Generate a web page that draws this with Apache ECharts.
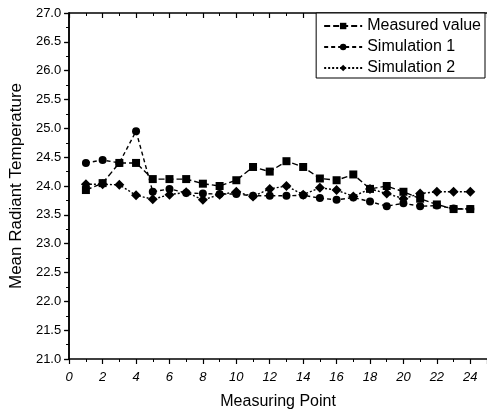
<!DOCTYPE html>
<html>
<head>
<meta charset="utf-8">
<script src="https://cdn.jsdelivr.net/npm/echarts@6/dist/echarts.min.js"></script>
<style>html,body{margin:0;padding:0;background:#fff}#c{width:487px;height:415px}</style>
</head>
<body>
<div id="c"></div>
<script>
const points = [1,2,3,4,5,6,7,8,9,10,11,12,13,14,15,16,17,18,19,20,21,22,23,24];
const measured = [23.93,24.05,24.40,24.40,24.12,24.12,24.12,24.04,24.00,24.10,24.33,24.25,24.43,24.33,24.13,24.10,24.20,23.95,24.00,23.90,23.78,23.68,23.60,23.60];
const simulation1 = [24.40,24.45,24.40,24.95,23.90,23.95,23.88,23.87,23.86,23.86,23.83,23.83,23.83,23.84,23.79,23.76,23.80,23.73,23.65,23.70,23.65,23.66,23.61,23.60];
const simulation2 = [24.03,24.03,24.02,23.84,23.77,23.85,23.89,23.76,23.85,23.90,23.82,23.95,24.00,23.85,23.97,23.93,23.82,23.95,23.87,23.78,23.87,23.90,23.90,23.90];
const seriesNames = ['Measured value','Simulation 1','Simulation 2'];
const xTitle = 'Measuring Point';
const yTitle = 'Mean Radiant Temperature';

const pair = arr => points.map((p,i)=>[p,arr[i]]);
const chart = echarts.init(document.getElementById('c'));
const font = 'Liberation Sans, Arial, sans-serif';
const mk = (name, data, symbol, size, dash) => ({
  name, type:'line', data: pair(data), symbol, symbolSize:size,
  itemStyle:{color:'#000'}, lineStyle:{color:'#000', width:1.4, type:dash},
  emphasis:{disabled:true}, animation:false
});
chart.setOption({
  animation:false,
  grid:{left:69, right:0, top:13, bottom:55, containLabel:false},
  legend:{
    right:2, top:13, orient:'vertical',
    itemWidth:38, itemHeight:8, itemGap:5,
    padding:[5,4,2,7],
    borderColor:'#000', borderWidth:1, backgroundColor:'#fff',
    textStyle:{fontFamily:font, fontSize:16, color:'#000'},
    data: seriesNames
  },
  xAxis:[{
    type:'value', min:0, max:25, interval:2,
    name:xTitle, nameLocation:'middle', nameGap:35,
    nameTextStyle:{fontFamily:font, fontSize:16, color:'#000'},
    axisLine:{lineStyle:{color:'#000', width:1.5}},
    axisTick:{inside:false, length:5, lineStyle:{color:'#000', width:1.2}},
    minorTick:{show:true, splitNumber:2, length:3, lineStyle:{color:'#000'}},
    axisLabel:{fontFamily:font, fontSize:13, fontStyle:'italic', color:'#000', margin:12, showMaxLabel:false,
      formatter:v=> v>24 ? '' : String(v)},
    splitLine:{show:false}
  },{
    type:'value', position:'top', min:0, max:25, interval:2,
    axisLine:{lineStyle:{color:'#000', width:1.5}},
    axisTick:{inside:true, length:5, lineStyle:{color:'#000', width:1.2}},
    minorTick:{show:true, splitNumber:2, length:3, lineStyle:{color:'#000'}},
    axisLabel:{show:false}, splitLine:{show:false}
  }],
  yAxis:[{
    type:'value', min:21, max:27, interval:0.5,
    name:yTitle, nameLocation:'middle', nameGap:44, nameRotate:90,
    nameTextStyle:{fontFamily:font, fontSize:17, color:'#000'},
    axisLine:{lineStyle:{color:'#000', width:1.5}},
    axisTick:{inside:false, length:5, lineStyle:{color:'#000', width:1.2}},
    minorTick:{show:true, splitNumber:2, length:3, lineStyle:{color:'#000'}},
    axisLabel:{fontFamily:font, fontSize:13, color:'#000', margin:8, formatter:v=>v.toFixed(1)},
    splitLine:{show:false}
  },{
    type:'value', position:'right', min:21, max:27, interval:0.5,
    axisLine:{lineStyle:{color:'#000', width:1.5}},
    axisTick:{inside:true, length:5, lineStyle:{color:'#000', width:1.2}},
    minorTick:{show:true, splitNumber:2, length:3, lineStyle:{color:'#000'}},
    axisLabel:{show:false}, splitLine:{show:false}
  }],
  series:[
    mk(seriesNames[0], measured, 'rect', 8, [6,3]),
    mk(seriesNames[1], simulation1, 'circle', 8, [4,3]),
    mk(seriesNames[2], simulation2, 'diamond', 10, [2,2])
  ]
});
</script>
</body>
</html>
